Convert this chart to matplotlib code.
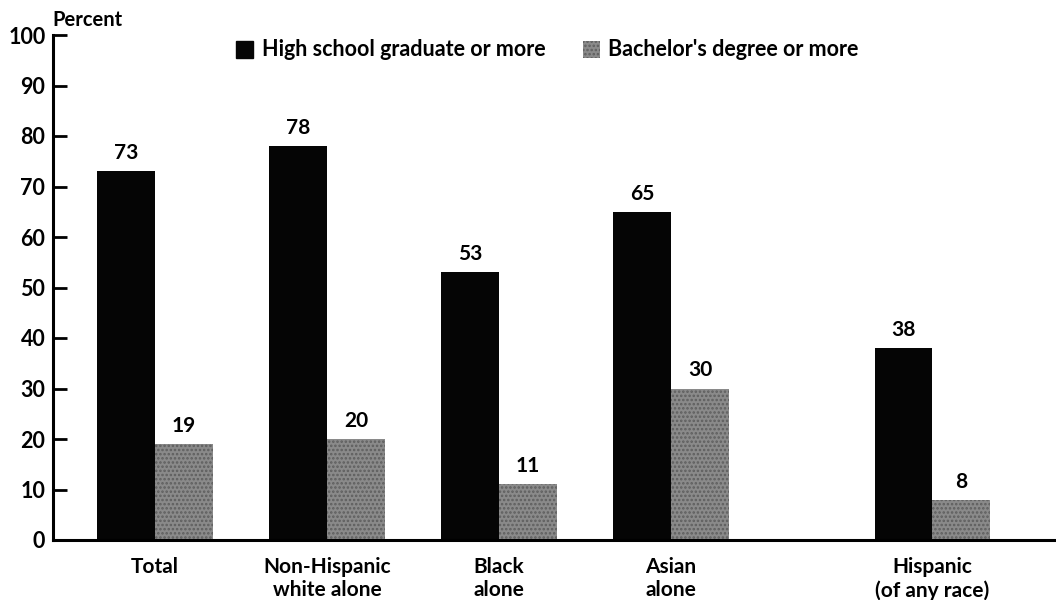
import matplotlib
matplotlib.use("Agg")
import matplotlib.pyplot as plt
import numpy as np

groups = ["Total", "Non-Hispanic\nwhite alone", "Black\nalone", "Asian\nalone", "Hispanic\n(of any race)"]
group_pos = [0, 1, 2, 3, 4.52]
high_school = [73, 78, 53, 65, 38]
bachelors = [19, 20, 11, 30, 8]
series_names = ["High school graduate or more", "Bachelor's degree or more"]
y_ticks = [0, 10, 20, 30, 40, 50, 60, 70, 80, 90, 100]

plt.rcParams["font.family"] = ["Lato", "DejaVu Sans"]
plt.rcParams["font.weight"] = "bold"
plt.rcParams["hatch.linewidth"] = 1.2

fig = plt.figure(figsize=(10.56, 6), dpi=100)
ax = fig.add_axes([53 / 1056, 60 / 600, 1003 / 1056, 505 / 600])

w = 0.337
x = np.array(group_pos)
dark = "#050505"
grey = "#8a8a8a"
ax.bar(x - w / 2, high_school, w, color=dark, linewidth=0)
ax.bar(x + w / 2, bachelors, w, facecolor=grey, linewidth=0,
       hatch="....", edgecolor="#5e5e5e")

for xi, v in zip(x - w / 2, high_school):
    ax.text(xi, v + 1.6, f"{v}", ha="center", va="bottom", fontsize=15, fontweight="bold")
for xi, v in zip(x + w / 2, bachelors):
    ax.text(xi, v + 1.6, f"{v}", ha="center", va="bottom", fontsize=15, fontweight="bold")

ax.set_xlim(-0.593, 5.238)
ax.set_ylim(0, 100)
ax.set_yticks(y_ticks)
ax.set_yticklabels([str(t) for t in y_ticks], fontsize=15.5, fontweight="bold")
ax.tick_params(axis="y", direction="in", length=10, width=2, pad=-1)
for lab in ax.get_yticklabels():
    lab.set_x(-0.009)
ax.set_xticks(x)
ax.set_xticklabels(groups, fontsize=15, fontweight="bold", linespacing=1.2)
ax.tick_params(axis="x", length=0, pad=12)

for s in ["top", "right"]:
    ax.spines[s].set_visible(False)
ax.spines["left"].set_linewidth(2.2)
ax.spines["bottom"].set_linewidth(2.2)

fig.text(52 / 1056, 1 - 20 / 600, "Percent", fontsize=14.5, fontweight="bold", va="center", ha="left")

# legend
fig.patches.append(plt.Rectangle((236 / 1056, 1 - 58 / 600), 17 / 1056, 17 / 600,
                                 transform=fig.transFigure, color=dark, figure=fig))
fig.text(262 / 1056, 1 - 50 / 600, series_names[0], fontsize=15.5, fontweight="bold", va="center")
fig.patches.append(plt.Rectangle((583 / 1056, 1 - 58 / 600), 17 / 1056, 17 / 600,
                                 transform=fig.transFigure, facecolor=grey, hatch="....",
                                 edgecolor="#5e5e5e", linewidth=0, figure=fig))
fig.text(608 / 1056, 1 - 50 / 600, series_names[1], fontsize=15.5, fontweight="bold", va="center")

fig.savefig("out.png", dpi=100)
